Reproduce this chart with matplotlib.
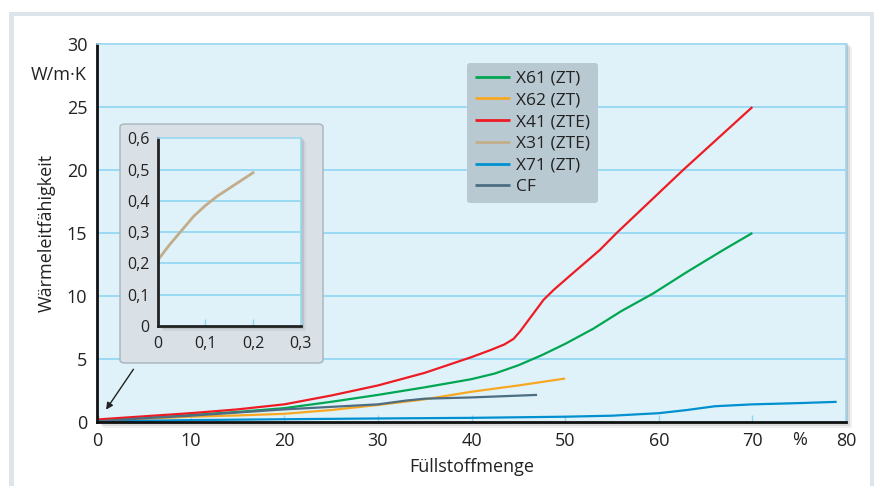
import matplotlib
matplotlib.use("Agg")
import matplotlib.pyplot as plt
from matplotlib.patches import FancyBboxPatch, Rectangle

plt.rcParams['font.family'] = ['Open Sans', 'DejaVu Sans']

# --- data ---
x61_x = [0, 5, 10, 15, 20, 25, 30, 35, 40, 42.5, 45, 47.5, 50, 53, 56, 59.4, 63, 67, 70]
x61_y = [0.1, 0.3, 0.55, 0.8, 1.1, 1.6, 2.15, 2.75, 3.4, 3.85, 4.5, 5.3, 6.2, 7.4, 8.8, 10.2, 11.9, 13.7, 15.0]

x62_x = [0, 5, 10, 15, 20, 25, 30, 35, 40, 45, 50]
x62_y = [0.05, 0.25, 0.42, 0.52, 0.65, 0.95, 1.35, 1.8, 2.4, 2.9, 3.45]

x41_x = [0, 5, 10, 15, 20, 25, 30, 35, 40, 42, 43.5, 44.5, 45.2, 46, 46.8, 47.7, 48.8, 50.5, 53.7, 55.5, 62.6, 70]
x41_y = [0.2, 0.45, 0.7, 1.0, 1.4, 2.1, 2.9, 3.9, 5.15, 5.7, 6.15, 6.6, 7.2, 8.0, 8.8, 9.7, 10.5, 11.6, 13.65, 15.0, 20.0, 25.0]

x31_x = [0, 0.025, 0.05, 0.075, 0.1, 0.125, 0.15, 0.175, 0.2]
x31_y = [0.21, 0.26, 0.305, 0.35, 0.385, 0.415, 0.44, 0.465, 0.49]

x71_x = [0, 10, 20, 30, 40, 50, 55, 60, 63, 66, 70, 75, 79]
x71_y = [0.05, 0.15, 0.22, 0.28, 0.33, 0.42, 0.5, 0.7, 0.95, 1.25, 1.4, 1.5, 1.6]

cf_x = [0, 5, 10, 15, 20, 25, 30, 33, 35, 40, 47]
cf_y = [0.05, 0.3, 0.5, 0.75, 1.0, 1.2, 1.4, 1.7, 1.85, 1.95, 2.15]

series = [
    ("X61 (ZT)", x61_x, x61_y, "#00a651"),
    ("X62 (ZT)", x62_x, x62_y, "#f7a823"),
    ("X41 (ZTE)", x41_x, x41_y, "#ed1c24"),
    ("X31 (ZTE)", x31_x, x31_y, "#c2ad8b"),
    ("X71 (ZT)", x71_x, x71_y, "#0090d0"),
    ("CF", cf_x, cf_y, "#4d6d82"),
]

x_ticks = [0, 10, 20, 30, 40, 50, 60, 70, 80]
y_ticks = [0, 5, 10, 15, 20, 25, 30]
inset_x_ticks = [0, 0.1, 0.2, 0.3]
inset_y_ticks = [0, 0.1, 0.2, 0.3, 0.4, 0.5, 0.6]

BG = "#e0f2f9"
GRID = "#8fd5f2"
W, H = 874, 486

fig = plt.figure(figsize=(W / 100, H / 100), dpi=100)

def fbox(x0, y0, x1, y1):
    # pixel box (top-left origin) -> figure fraction
    return (x0 / W, 1 - y1 / H, (x1 - x0) / W, (y1 - y0) / H)

# outer frame
b = fbox(9, 12, 880, 490)
fig.patches.append(Rectangle(b[:2], *b[2:], transform=fig.transFigure,
                             facecolor="#dde4ea", edgecolor="none", zorder=-3))
b = fbox(14, 16, 870, 490)
fig.patches.append(Rectangle(b[:2], *b[2:], transform=fig.transFigure,
                             facecolor="white", edgecolor="none", zorder=-2))

# soft shadow of main plot
for off, a in [(6, 0.08), (4, 0.12), (2, 0.18)]:
    b = fbox(97 + off, 44 + off - 3, 846 + off, 422 + off)
    fig.patches.append(Rectangle(b[:2], *b[2:], transform=fig.transFigure,
                                 facecolor="#404850", alpha=a, edgecolor="none", zorder=-1))

ax = fig.add_axes(fbox(97, 44, 846, 422), zorder=0)
ax.set_facecolor(BG)
for lab, xs, ys, c in series:
    ax.plot(xs, ys, color=c, lw=1.6, label=lab, solid_capstyle="butt", solid_joinstyle="round")

ax.set_xlim(0, 80)
ax.set_ylim(0, 30)
ax.set_xticks(x_ticks)
ax.set_yticks(y_ticks)
ax.set_xticklabels([str(v) for v in x_ticks])
ax.set_yticklabels([str(v) for v in y_ticks])
for y in y_ticks[1:-1]:
    ax.axhline(y, color=GRID, lw=1.2, zorder=0.5)
ax.tick_params(axis="x", direction="in", length=5, width=1, color=GRID, pad=7, labelsize=13, labelcolor="#222222")
ax.tick_params(axis="y", length=0, pad=7, labelsize=13, labelcolor="#222222")
for s in ["left", "bottom"]:
    ax.spines[s].set_color("#111111")
    ax.spines[s].set_linewidth(2)
for s in ["top", "right"]:
    ax.spines[s].set_color("#9ad8f0")
    ax.spines[s].set_linewidth(1.2)

ax.text(75, -0.75, "%", ha="center", va="top", fontsize=13, color="#222222")
ax.set_xlabel("Füllstoffmenge", fontsize=13, color="#222222", labelpad=6)
ax.set_ylabel("Wärmeleitfähigkeit", fontsize=13, color="#222222", labelpad=8)
ax.text(-1.1, 27.5, "W/m·K", ha="right", va="center", fontsize=13, color="#222222")

leg = ax.legend(loc="upper left", bbox_to_anchor=(0.494, 0.95), borderaxespad=0,
                fontsize=12.5, frameon=True, fancybox=True, handlelength=2.0,
                labelspacing=0.32, handletextpad=0.4, borderpad=0.45)
leg.get_frame().set_facecolor("#b9c9d2")
leg.get_frame().set_edgecolor("none")
leg.get_frame().set_alpha(1)
for t in leg.get_texts():
    t.set_color("#222222")
for h in leg.get_lines():
    h.set_linewidth(2)

ax.annotate("", xy=(0.8, 0.8), xytext=(4.06, 4.37),
            arrowprops=dict(arrowstyle="-|>", color="#222222", lw=1, mutation_scale=10))

# inset panel
b = fbox(120, 124, 323, 363)
fig.patches.append(FancyBboxPatch(b[:2], b[2], b[3], boxstyle="round,pad=0,rounding_size=0.006",
                                  transform=fig.transFigure, facecolor="#d9e0e6",
                                  edgecolor="#a8b3bc", lw=1, zorder=1))
for off, a in [(5, 0.08), (3, 0.12), (1.5, 0.18)]:
    b = fbox(157.7 + off, 138.3 + off - 2, 300.7 + off, 326 + off)
    fig.patches.append(Rectangle(b[:2], *b[2:], transform=fig.transFigure,
                                 facecolor="#404850", alpha=a, edgecolor="none", zorder=1.5))

axi = fig.add_axes(fbox(157.7, 138.3, 300.7, 326), zorder=2)
axi.set_facecolor(BG)
axi.plot(x31_x, x31_y, color="#c2ad8b", lw=2)
axi.set_xlim(0, 0.3)
axi.set_ylim(0, 0.6)
axi.set_xticks(inset_x_ticks)
axi.set_yticks(inset_y_ticks)
axi.set_xticklabels([str(v).replace(".", ",") for v in inset_x_ticks])
axi.set_yticklabels([("0" if v == 0 else str(v).replace(".", ",")) for v in inset_y_ticks])
for y in inset_y_ticks[1:-1]:
    axi.axhline(y, color=GRID, lw=1.2, zorder=0.5)
axi.tick_params(axis="x", direction="in", length=5, width=1, color=GRID, pad=7, labelsize=11.5, labelcolor="#222222")
axi.tick_params(axis="y", length=0, pad=6, labelsize=11.5, labelcolor="#222222")
for s in ["left", "bottom"]:
    axi.spines[s].set_color("#222222")
    axi.spines[s].set_linewidth(2)
for s in ["top", "right"]:
    axi.spines[s].set_color("#9ad8f0")
    axi.spines[s].set_linewidth(1.2)

fig.savefig("out.png", dpi=100)
